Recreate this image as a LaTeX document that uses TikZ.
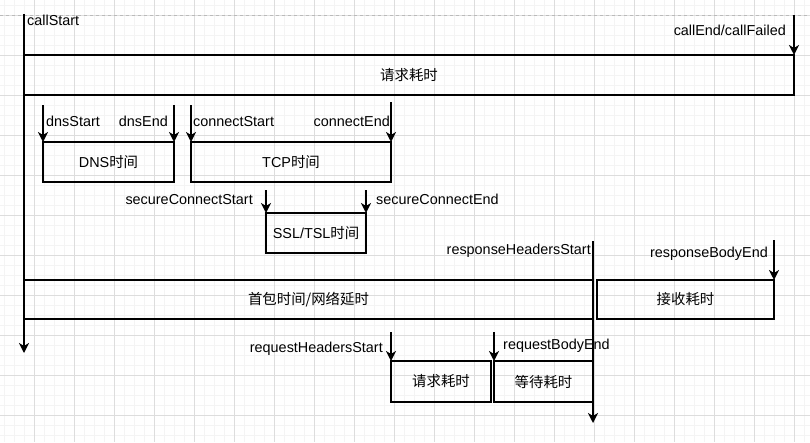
\documentclass[tikz,border=0pt]{standalone}
\usepackage{fontspec}
\setmainfont{Liberation Sans}
\newfontfamily\cjk{Noto Sans CJK SC}
\usepackage{tikz}
\usetikzlibrary{arrows.meta}
\tikzset{>={Stealth[length=10pt,width=10pt,inset=3pt]}}
\usepackage{xcolor}
\definecolor{gridmajor}{HTML}{DDDDDD}
\definecolor{gridminor}{HTML}{F4F4F4}
\definecolor{pageline}{HTML}{BBBBBB}

\begin{document}
\begin{tikzpicture}[x=1pt, y=-1pt,
    phase/.style={draw, line width=2pt, rectangle, anchor=north west, inner sep=0pt, outer sep=0pt, font=\fontsize{14.4}{16}\selectfont},
    tick/.style={->, line width=2pt},
    evt/.style={inner sep=0pt, font=\fontsize{14.4}{16}\selectfont}]
    \useasboundingbox[fill=white] (0,0) rectangle (810,442);
    % background grid
    \foreach \gx in {4,14,...,804} \draw[gridminor, line width=1pt] (\gx,0) -- (\gx,442);
    \foreach \gy in {5,15,...,435} \draw[gridminor, line width=1pt] (0,\gy) -- (810,\gy);
    \foreach \gx in {34,74,...,794} \draw[gridmajor, line width=1pt] (\gx,0) -- (\gx,442);
    \foreach \gy in {15,55,...,415} \draw[gridmajor, line width=1pt] (0,\gy) -- (810,\gy);
    \draw[pageline, dashed, line width=1pt] (0,15) -- (810,15);

    % phases
    \node[phase, minimum width=770pt, minimum height=40pt] (total) at (24,55) {\cjk 请求耗时};
    \node[phase, minimum width=131pt, minimum height=40pt] (dns) at (43,142) {DNS\cjk 时间};
    \node[phase, minimum width=200pt, minimum height=40pt] (tcp) at (191,142) {TCP\cjk 时间};
    \node[phase, minimum width=100pt, minimum height=40pt] (ssl) at (266,213) {SSL/TSL\cjk 时间};
    \node[phase, minimum width=569pt, minimum height=39pt] (firstpkg) at (24,280) {\cjk 首包时间/网络延时};
    \node[phase, minimum width=177pt, minimum height=39pt] (recv) at (597,280) {\cjk 接收耗时};
    \node[phase, minimum width=100pt, minimum height=41pt] (reqt) at (391,361) {\cjk 请求耗时};
    \node[phase, minimum width=99pt, minimum height=41pt] (wait) at (494,361) {\cjk 等待耗时};

    % event ticks
    \coordinate (callTop) at (24,14);
    \coordinate (callBottom) at (24,353);
    \coordinate (endTop) at (794,15);
    \coordinate (dnsSTop) at (43,105);
    \coordinate (dnsETop) at (174,105);
    \coordinate (conSTop) at (191,105);
    \coordinate (conETop) at (391,102);
    \coordinate (secSTop) at (266,190);
    \coordinate (secETop) at (366,190);
    \coordinate (respTop) at (593,241);
    \coordinate (respBottom) at (593,423);
    \coordinate (bodyTop) at (774,240);
    \coordinate (rhSTop) at (391,332);
    \coordinate (rbETop) at (494,332);
    \draw[tick] (callTop) -- (callBottom);
    \draw[tick] (endTop) -- (total.north east);
    \draw[tick] (dnsSTop) -- (dns.north west);
    \draw[tick] (dnsETop) -- (dns.north east);
    \draw[tick] (conSTop) -- (tcp.north west);
    \draw[tick] (conETop) -- (tcp.north east);
    \draw[tick] (secSTop) -- (ssl.north west);
    \draw[tick] (secETop) -- (ssl.north east);
    \draw[tick] (respTop) -- (respBottom);
    \draw[tick] (bodyTop) -- (recv.north east);
    \draw[tick] (rhSTop) -- (reqt.north west);
    \draw[tick] (rbETop) -- (wait.north west);

    % event names
    \node[evt, anchor=base west] (lblCallStart) at (27,25) {callStart};
    \node[evt, anchor=base east] (lblCallEnd) at (786,35) {callEnd/callFailed};
    \node[evt, anchor=base west] (lblDnsStart) at (46,126) {dnsStart};
    \node[evt, anchor=base east] (lblDnsEnd) at (168,126) {dnsEnd};
    \node[evt, anchor=base west] (lblConStart) at (193,126) {connectStart};
    \node[evt, anchor=base east] (lblConEnd) at (390,126) {connectEnd};
    \node[evt, anchor=base east] (lblSecStart) at (253,204) {secureConnectStart};
    \node[evt, anchor=base west] (lblSecEnd) at (376,204) {secureConnectEnd};
    \node[evt, anchor=base east] (lblRespHdr) at (591,254) {responseHeadersStart};
    \node[evt, anchor=base east] (lblBodyEnd) at (768,257) {responseBodyEnd};
    \node[evt, anchor=base east] (lblReqHdr) at (383,352) {requestHeadersStart};
    \node[evt, anchor=base west] (lblReqBody) at (503,349) {requestBodyEnd};
\end{tikzpicture}
\end{document}
